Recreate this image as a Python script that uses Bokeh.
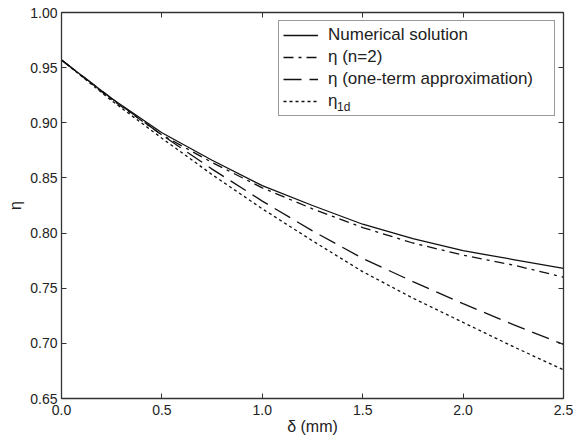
from bokeh.plotting import figure
from bokeh.models import (LinearAxis, Legend, LegendItem, Label, FixedTicker,
                          CustomJSTickFormatter, Range1d)
from bokeh.embed import file_html
from bokeh.resources import INLINE

# ---- data ----
delta = [0.0, 0.25, 0.5, 0.75, 1.0, 1.25, 1.5, 1.75, 2.0, 2.25, 2.5]
eta_numerical = [0.957, 0.922, 0.891, 0.866, 0.843, 0.825, 0.808, 0.795, 0.784, 0.776, 0.768]
eta_n2 = [0.957, 0.921, 0.889, 0.864, 0.841, 0.822, 0.805, 0.791, 0.780, 0.771, 0.760]
eta_one_term = [0.957, 0.922, 0.889, 0.858, 0.829, 0.802, 0.777, 0.756, 0.736, 0.717, 0.699]
eta_1d = [0.957, 0.920, 0.886, 0.853, 0.822, 0.793, 0.765, 0.741, 0.719, 0.697, 0.676]

x_ticks = [0.0, 0.5, 1.0, 1.5, 2.0, 2.5]
y_ticks = [0.65, 0.70, 0.75, 0.80, 0.85, 0.90, 0.95, 1.00]
x_tick_labels = {0.0: "0.0", 0.5: "0.5", 1.0: "1.0", 1.5: "1.5", 2.0: "2.0", 2.5: "2.5"}
y_tick_labels = {v: f"{v:.2f}" for v in y_ticks}

series_labels = ["Numerical solution", "\u03b7 (n=2)", "\u03b7 (one-term approximation)", "\u03b7"]
subscript_label = "1d"

FONT = "Liberation Sans"
AX = "#333333"
LC = "#111111"

p = figure(width=585, height=446, output_backend="svg", toolbar_location=None,
           x_range=Range1d(0, 2.5), y_range=Range1d(0.65, 1.0),
           min_border_left=61, min_border_right=22, min_border_top=12, min_border_bottom=48,
           x_axis_label="\u03b4 (mm)", y_axis_label="\u03b7")
p.background_fill_color = "white"
p.border_fill_color = "white"
p.outline_line_color = AX
p.grid.visible = False

def style_axis(ax, ticks, labels):
    ax.ticker = FixedTicker(ticks=ticks)
    ax.major_label_overrides = labels
    ax.axis_line_color = AX
    ax.axis_line_width = 1.3
    ax.major_tick_line_color = AX
    ax.major_tick_in = 5
    ax.major_tick_out = 0
    ax.minor_tick_line_color = None
    ax.major_label_text_font = FONT
    ax.major_label_text_font_size = "14px"
    ax.major_label_text_color = "#222222"
    ax.axis_label_text_font = FONT
    ax.axis_label_text_font_style = "normal"
    ax.axis_label_text_font_size = "16px"
    ax.axis_label_text_color = "#222222"

style_axis(p.xaxis[0], x_ticks, x_tick_labels)
style_axis(p.yaxis[0], y_ticks, y_tick_labels)
p.xaxis[0].major_label_standoff = 6
p.xaxis[0].axis_label_standoff = 0
p.yaxis[0].major_label_standoff = 4
p.yaxis[0].axis_label_standoff = 3

# top and right axes: ticks only
for loc in ("above", "right"):
    ax = LinearAxis(formatter=CustomJSTickFormatter(code="return ''"))
    ax.ticker = FixedTicker(ticks=x_ticks if loc == "above" else y_ticks)
    ax.axis_line_color = AX
    ax.axis_line_width = 1.3
    ax.major_tick_line_color = AX
    ax.major_tick_in = 5
    ax.major_tick_out = 0
    ax.minor_tick_line_color = None
    ax.major_label_text_font_size = "0px"
    ax.major_label_standoff = 0
    p.add_layout(ax, loc)

r1 = p.line(delta, eta_numerical, line_color=LC, line_width=1.3)
r2 = p.line(delta, eta_n2, line_color=LC, line_width=1.3, line_dash="10 5 3 5")
r3 = p.line(delta, eta_one_term, line_color=LC, line_width=1.3, line_dash="18 8")
r4 = p.line(delta, eta_1d, line_color=LC, line_width=1.3, line_dash="3 3")

legend = Legend(items=[LegendItem(label=series_labels[i], renderers=[r])
                       for i, r in enumerate([r1, r2, r3, r4])],
                location="top_right")
legend.margin = 8
legend.padding = 4
legend.spacing = 2
legend.glyph_width = 35
legend.glyph_height = 20
legend.label_height = 20
legend.label_width = 222
legend.label_standoff = 10
legend.label_text_font = FONT
legend.label_text_font_size = "17px"
legend.label_text_color = "#222222"
legend.border_line_color = AX
legend.border_line_width = 1.3
legend.background_fill_alpha = 0.0
p.add_layout(legend, "center")

# subscript of the last legend entry
sub = Label(x=1.372, y=0.914, text=subscript_label,
            text_font=FONT, text_font_size="12px", text_color="#222222",
            text_baseline="alphabetic", text_align="left", level="overlay")
p.add_layout(sub)

open("out.html", "w").write(file_html(p, INLINE))
